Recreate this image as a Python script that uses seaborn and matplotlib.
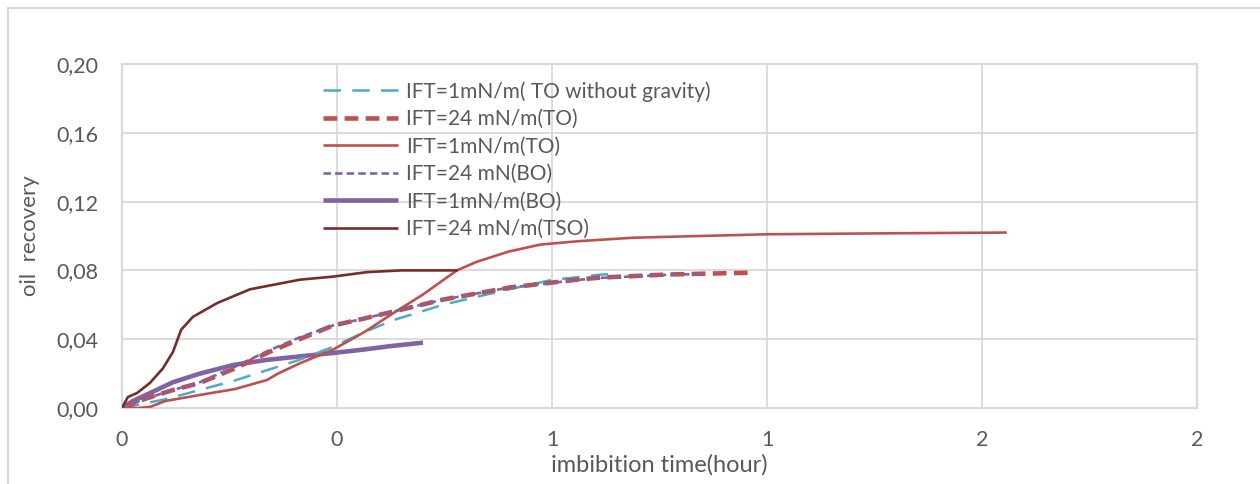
import numpy as np
import pandas as pd
import matplotlib
matplotlib.use("Agg")
import matplotlib.pyplot as plt
from matplotlib.ticker import FuncFormatter, FixedLocator
from matplotlib.patches import Rectangle
import seaborn as sns

# ---- data ----
teal_x = [0, 0.03, 0.08, 0.145, 0.21, 0.27, 0.33, 0.393, 0.45, 0.504, 0.597, 0.72, 0.80, 0.846, 0.889, 0.92]
teal_y = [0, 0.002, 0.005, 0.0105, 0.016, 0.022, 0.028, 0.0356, 0.044, 0.051, 0.060, 0.069, 0.0745, 0.076, 0.0775, 0.078]

red_dash_x = [0, 0.04, 0.09, 0.145, 0.21, 0.27, 0.33, 0.393, 0.45, 0.504, 0.597, 0.72, 0.846, 0.889, 1.014, 1.174]
red_dash_y = [0, 0.005, 0.010, 0.0146, 0.023, 0.032, 0.040, 0.048, 0.052, 0.056, 0.063, 0.070, 0.0746, 0.0758, 0.0776, 0.0787]

purple_dash_x = [0, 0.04, 0.09, 0.145, 0.21, 0.27, 0.33, 0.393, 0.45, 0.504, 0.597, 0.72, 0.846, 0.889, 1.014, 1.08]
purple_dash_y = [0, 0.005, 0.010, 0.0150, 0.024, 0.033, 0.041, 0.048, 0.052, 0.056, 0.063, 0.070, 0.0744, 0.0756, 0.0774, 0.0780]

red_solid_x = [0, 0.03, 0.052, 0.08, 0.145, 0.21, 0.27, 0.29, 0.331, 0.393, 0.45, 0.504, 0.56, 0.623, 0.66, 0.72, 0.778, 0.85, 0.951, 1.2, 1.4, 1.646]
red_solid_y = [0, 0.0, 0.0006, 0.004, 0.0076, 0.011, 0.0163, 0.020, 0.026, 0.034, 0.044, 0.055, 0.066, 0.080, 0.085, 0.091, 0.095, 0.097, 0.099, 0.101, 0.1015, 0.102]

purple_solid_x = [0, 0.02, 0.052, 0.095, 0.145, 0.207, 0.27, 0.331, 0.393, 0.45, 0.5, 0.56]
purple_solid_y = [0, 0.004, 0.0087, 0.015, 0.020, 0.025, 0.028, 0.030, 0.032, 0.034, 0.036, 0.038]

tso_x = [0, 0.011, 0.028, 0.052, 0.076, 0.095, 0.11, 0.132, 0.177, 0.238, 0.331, 0.393, 0.456, 0.52, 0.625]
tso_y = [0, 0.0064, 0.0087, 0.0146, 0.023, 0.0327, 0.0455, 0.053, 0.061, 0.069, 0.0746, 0.0764, 0.079, 0.080, 0.080]

labels = ["IFT=1mN/m( TO without gravity)", "IFT=24 mN/m(TO)", "IFT=1mN/m(TO)",
          "IFT=24 mN(BO)", "IFT=1mN/m(BO)", "IFT=24 mN/m(TSO)"]
x_ticks = [0, 0.4, 0.8, 1.2, 1.6, 2.0]
y_ticks = [0.0, 0.04, 0.08, 0.12, 0.16, 0.20]
x_label = "imbibition time(hour)"
y_label = "oil  recovery"

# ---- styling ----
sns.set_style("white")
plt.rcParams['font.family'] = ['Lato', 'DejaVu Sans']
text_color = "#595959"
grid_color = "#D9D9D9"

W, H = 1260, 484
fig = plt.figure(figsize=(W / 100, H / 100), dpi=100)
ax = fig.add_axes([122 / W, 1 - 408 / H, (1197 - 122) / W, (408 - 64) / H])

series = [
    (teal_x, teal_y, dict(color="#4BACC6", lw=1.8, dashes=(7.0, 4.5))),
    (red_dash_x, red_dash_y, dict(color="#C0504D", lw=3.3, dashes=(3.0, 1.6))),
    (red_solid_x, red_solid_y, dict(color="#C0504D", lw=1.9)),
    (purple_dash_x, purple_dash_y, dict(color="#8064A2", lw=1.9, dashes=(2.8, 1.6))),
    (purple_solid_x, purple_solid_y, dict(color="#8064A2", lw=3.3)),
    (tso_x, tso_y, dict(color="#772C2A", lw=1.9)),
]
z_order = [3, 5, 4, 6, 2, 7]
for (xs, ys, kw), lab, z in zip(series, labels, z_order):
    df = pd.DataFrame({"x": xs, "y": ys})
    dashes = kw.pop("dashes", None)
    line_ax = sns.lineplot(data=df, x="x", y="y", ax=ax, sort=False, label=lab,
                           estimator=None, zorder=z, solid_capstyle="butt", **kw)
    ln = line_ax.get_lines()[-1]
    if dashes is not None:
        ln.set_dashes(dashes)
        ln.set_dash_capstyle("butt")

ax.set_xlim(0, 2.0)
ax.set_ylim(0, 0.20)
ax.xaxis.set_major_locator(FixedLocator(x_ticks))
ax.yaxis.set_major_locator(FixedLocator(y_ticks))
ax.xaxis.set_major_formatter(FuncFormatter(lambda v, p: f"{v:.0f}"))
ax.yaxis.set_major_formatter(FuncFormatter(lambda v, p: f"{v:.2f}".replace(".", ",")))
ax.grid(True, color=grid_color, lw=1.3)
ax.set_axisbelow(True)
for s in ax.spines.values():
    s.set_color(grid_color)
    s.set_linewidth(1.6)
ax.tick_params(axis="both", length=0, labelsize=15.5, labelcolor=text_color)
ax.tick_params(axis="y", pad=17)
ax.tick_params(axis="x", pad=16)
ax.set_xlabel(x_label, fontsize=17, color=text_color, labelpad=3)
ax.set_ylabel(y_label, fontsize=16, color=text_color, labelpad=12)

leg = ax.legend(loc="upper left", bbox_to_anchor=((323 - 122) / 1075, (408 - 81) / 344),
                frameon=False, fontsize=15, handlelength=3.6, handletextpad=0.4,
                labelspacing=0.36, borderpad=0, borderaxespad=0)
for t in leg.get_texts():
    t.set_color(text_color)

# figure border
fig.patches.append(Rectangle((8 / W, -0.1), 1.2, 1 - 8 / H + 0.1, transform=fig.transFigure,
                             fill=False, edgecolor="#D9D9D9", lw=1.5))

fig.savefig("out.png", dpi=100, facecolor="white")
